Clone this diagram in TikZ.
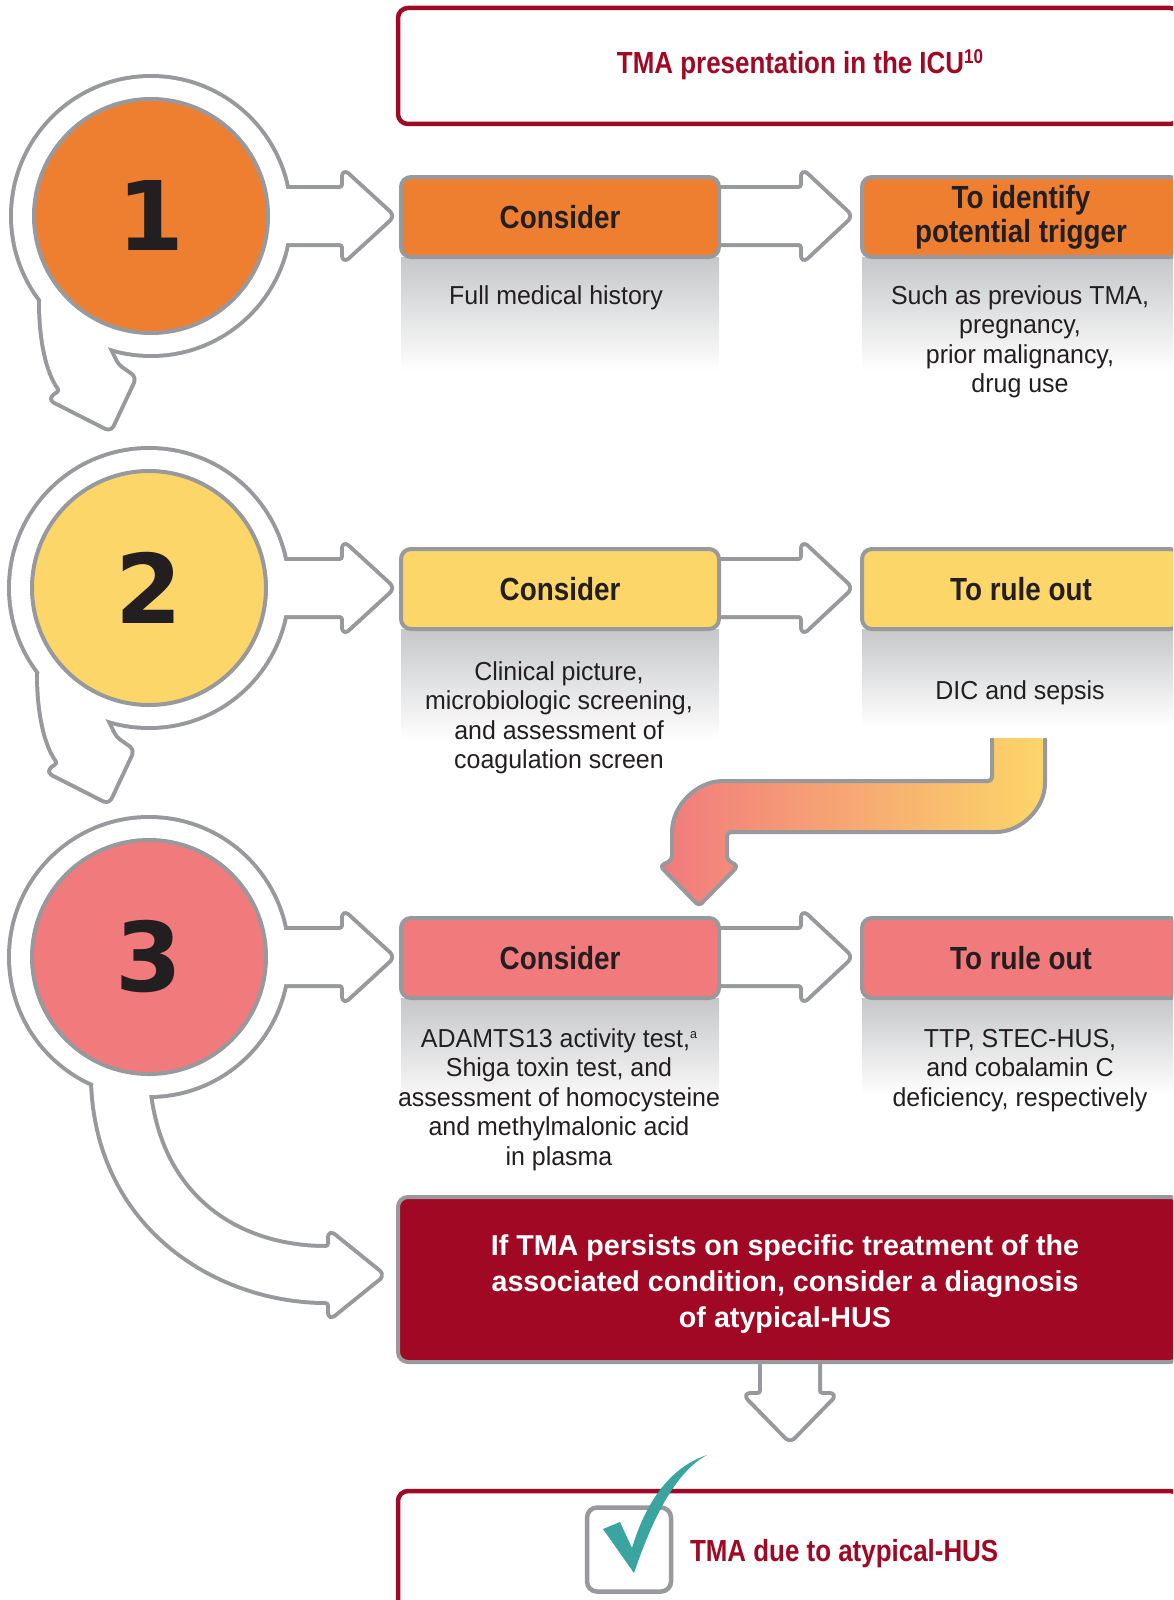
\documentclass[tikz,border=0pt]{standalone}
\usepackage{fontspec}
\setmainfont{Liberation Sans}
\newfontfamily\condfont[FakeStretch=0.87]{Liberation Sans}
\newfontfamily\ttlfont[FakeStretch=0.85]{Liberation Sans}
\newfontfamily\bodyfont[FakeStretch=0.96]{Liberation Sans}
\newfontfamily\numfont{DejaVu Sans}
\definecolor{orangeC}{RGB}{238,127,49}
\definecolor{yellowC}{RGB}{252,214,105}
\definecolor{pinkC}{RGB}{241,122,125}
\definecolor{redC}{RGB}{160,8,35}
\definecolor{lineG}{RGB}{152,153,157}
\definecolor{panelG}{RGB}{198,199,201}
\definecolor{inkC}{RGB}{35,31,32}
\definecolor{tealC}{RGB}{58,165,160}

\newcommand\AllShapes[1]{%
  \foreach \cx/\cy in {151/216,149/588,149/957} {
    \path[#1] (\cx,\cy) circle[radius=138];
    \path[#1,rounded corners=4pt] (\cx,\cy-27) -- (344,\cy-27) -- (344,\cy-44) -- (392,\cy) -- (344,\cy+44) -- (344,\cy+27) -- (\cx,\cy+27) -- cycle;
    \path[#1,rounded corners=4pt] (700,\cy-27) -- (803,\cy-27) -- (803,\cy-44) -- (850,\cy) -- (803,\cy+44) -- (803,\cy+27) -- (700,\cy+27) -- cycle;
  }
  \foreach \dx/\dy in {0/0,-2/372.5} {
    \begin{scope}[shift={(\dx,\dy)}]
      \path[#1,rounded corners=4pt] (75,270) -- (41,298) .. controls (41,340) and (48,372) .. (62,391) -- (51,399) -- (110,429) -- (134,378) -- (117,366) .. controls (110,352) and (105,342) .. (102,333) -- (110,300) -- cycle;
    \end{scope}
  }
  \path[#1,rounded corners=4pt] (110,1040) -- (93,1082) .. controls (100,1230) and (220,1301) .. (330,1301) -- (330,1317) -- (382,1275) -- (330,1233) -- (330,1248) .. controls (240,1248) and (160,1200) .. (148,1085) -- (150,1040) -- cycle;
  \path[#1,rounded corners=4pt] (762,1340) -- (762,1395) -- (746,1395) -- (790,1440) -- (834,1395) -- (818,1395) -- (818,1340) -- cycle;
}

\begin{document}
\begin{tikzpicture}[x=1pt,y=-1pt,
  every node/.style={inner sep=0pt, outer sep=0pt},
  outl/.style={draw=lineG, line width=8pt, line join=round},
  wfill/.style={fill=white},
  disc/.style={circle, draw=lineG, line width=4pt, minimum size=234pt},
  numtxt/.style={font=\numfont\bfseries\fontsize{96}{96}\selectfont, text=inkC},
  stepbox/.style={draw=lineG, line width=4pt, rounded corners=10pt, minimum width=318pt, minimum height=80pt, align=center, text=inkC, font=\condfont\bfseries\fontsize{32}{35}\selectfont},
  bodytxt/.style={font=\bodyfont\fontsize{26}{29.5}\selectfont, text=inkC, align=center, anchor=base},
  panel/.style={top color=panelG, bottom color=white},
  framebox/.style={draw=redC, line width=4.5pt, rounded corners=10pt, minimum width=782pt},
]
\useasboundingbox (0,0) rectangle (1173,1600);
\clip (0,0) rectangle (1173,1600);

% gradient panels
\shade[panel] (401,257) rectangle (719,372);
\shade[panel] (862,257) rectangle (1180,372);
\shade[panel] (401,629) rectangle (719,740);
\shade[panel] (862,629) rectangle (1180,726);
\shade[panel] (401,998) rectangle (719,1110);
\shade[panel] (862,998) rectangle (1180,1095);

% white outlined arrows and rings
\AllShapes{outl}
\AllShapes{wfill}

% step discs
\node[disc, fill=orangeC] (c1) at (151,216) {};
\node[disc, fill=yellowC] (c2) at (149,588) {};
\node[disc, fill=pinkC] (c3) at (149,957) {};
\node[numtxt] (n1) at (c1.center) {1};
\node[numtxt] (n2) at (c2.center) {2};
\node[numtxt] (n3) at (c3.center) {3};

% title box
\node[framebox, minimum height=116pt] (top) at (789,66) {};
\node[font=\ttlfont\bfseries\fontsize{30.5}{34}\selectfont, text=redC, anchor=base] (title) at (800,74) {TMA presentation in the ICU\raisebox{10pt}{\fontsize{20}{20}\selectfont 10}};

% row 1
\node[stepbox, fill=orangeC] (a1) at (560,217) {Consider};
\node[stepbox, fill=orangeC] (b1) at (1021,217) {\raisebox{-5pt}{\parbox{300pt}{\centering To identify\\[-1pt]potential trigger}}};
\node[bodytxt] (ta1) at (556,304) {Full medical history};
\node[bodytxt] (tb1) at (1020,392.5) {Such as previous TMA,\\pregnancy,\\prior malignancy,\\drug use};

% row 2
\node[stepbox, fill=yellowC] (a2) at (560,589) {Consider};
\node[stepbox, fill=yellowC] (b2) at (1021,589) {To rule out};
\node[bodytxt] (ta2) at (559,768.5) {Clinical picture,\\microbiologic screening,\\and assessment of\\coagulation screen};
\node[bodytxt] (tb2) at (1020,699) {DIC and sepsis};

% row 3
\node[stepbox, fill=pinkC] (a3) at (560,958) {Consider};
\node[stepbox, fill=pinkC] (b3) at (1021,958) {To rule out};
\node[bodytxt] (ta3) at (559,1165) {ADAMTS13 activity test,\raisebox{9pt}{\fontsize{13}{13}\selectfont a}\\Shiga toxin test, and\\assessment of homocysteine\\and methylmalonic acid\\in plasma};
\node[bodytxt] (tb3) at (1020,1106) {TTP, STEC-HUS,\\and cobalamin C\\deficiency, respectively};

% bent gradient arrow
\shade[left color=pinkC, right color=yellowC, rounded corners=4pt]
  (992,738) -- (992,781) -- (727,781) .. controls (696.6,781) and (672,805.6) .. (672,836) -- (672,860) -- (660,866) -- (699,906) -- (738,866) -- (727,860) -- (727,832) -- (992,832) .. controls (1021.3,832) and (1045,808.3) .. (1045,779) -- (1045,738) -- cycle;
\draw[lineG, line width=4pt, rounded corners=4pt, line join=round]
  (992,738) -- (992,781) -- (727,781) .. controls (696.6,781) and (672,805.6) .. (672,836) -- (672,860) -- (660,866) -- (699,906) -- (738,866) -- (727,860) -- (727,832) -- (992,832) .. controls (1021.3,832) and (1045,808.3) .. (1045,779) -- (1045,738);

% conclusion box
\node[draw=lineG, fill=redC, line width=4pt, rounded corners=10pt, minimum width=782pt, minimum height=165pt] (red) at (789,1279.5) {};
\node[font=\bfseries\fontsize{28.7}{36}\selectfont, text=white, align=center, anchor=base] (redtxt) at (785,1327) {If TMA persists on specific treatment of the\\associated condition, consider a diagnosis\\of atypical-HUS};

% result box
\node[framebox, minimum height=129pt] (res) at (789,1555.5) {};
\node[draw=lineG, fill=white, line width=4.5pt, rounded corners=10pt, minimum size=84pt] (tick) at (629,1549.5) {};
\fill[tealC] (603,1529) -- (620,1522) -- (632,1548) .. controls (645,1505) and (668,1468) .. (707,1455) .. controls (675,1472) and (652,1520) .. (634,1573) -- cycle;
\node[font=\ttlfont\bfseries\fontsize{30.5}{34}\selectfont, text=redC, anchor=base west] (restxt) at (690,1561) {TMA due to atypical-HUS};
\end{tikzpicture}
\end{document}
